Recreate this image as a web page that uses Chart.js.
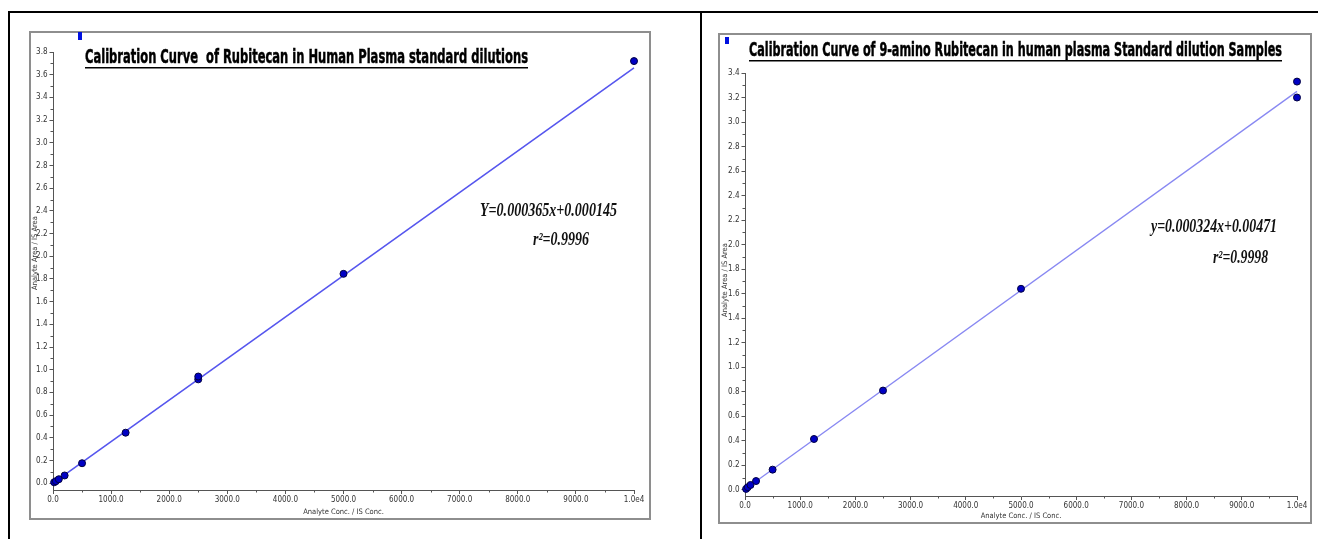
<!DOCTYPE html>
<html>
<head>
<meta charset="utf-8">
<script src="https://cdn.jsdelivr.net/npm/chart.js@4.4.1/dist/chart.umd.min.js"></script>
<style>
  body { margin: 0; background: #fff; width: 1318px; height: 539px; overflow: hidden; position: relative; }
  .rule { position: absolute; background: #000; }
  .frame { position: absolute; box-sizing: border-box; border: 2px solid #8e8e8e; }
  canvas { position: absolute; }
</style>
</head>
<body>
<div class="rule" style="left:8px;top:11px;width:1310px;height:2px"></div>
<div class="rule" style="left:8px;top:11px;width:2px;height:528px"></div>
<div class="rule" style="left:700px;top:11px;width:2px;height:528px"></div>
<div class="frame" style="left:29px;top:31px;width:622px;height:489px"></div>
<div class="frame" style="left:718px;top:33px;width:594px;height:491px"></div>
<canvas id="rubitecan" width="620" height="487" style="left:30px;top:32px"></canvas>
<canvas id="aminoRubitecan" width="592" height="489" style="left:719px;top:34px"></canvas>
<script>
// x axis (shared by both curves)
var xTickValues = [0, 1000, 2000, 3000, 4000, 5000, 6000, 7000, 8000, 9000, 10000];
var xTickLabels = ['0.0', '1000.0', '2000.0', '3000.0', '4000.0', '5000.0', '6000.0', '7000.0', '8000.0', '9000.0', '1.0e4'];

// Rubitecan standards
var rubConc = [20, 50, 100, 200, 500, 1250, 2500, 2500, 5000, 10000];
var rubRatio = [0.008, 0.018, 0.035, 0.068, 0.176, 0.445, 0.915, 0.94, 1.845, 3.72];
var rubFitConc = [0, 10000];
var rubFitRatio = [0.0, 3.66];
var rubYTicks = [0.0, 0.2, 0.4, 0.6, 0.8, 1.0, 1.2, 1.4, 1.6, 1.8, 2.0, 2.2, 2.4, 2.6, 2.8, 3.0, 3.2, 3.4, 3.6, 3.8];

// 9-amino Rubitecan standards
var aminoConc = [20, 50, 100, 200, 500, 1250, 2500, 5000, 10000, 10000];
var aminoRatio = [0.008, 0.022, 0.04, 0.072, 0.165, 0.415, 0.81, 1.64, 3.20, 3.33];
var aminoFitConc = [0, 10000];
var aminoFitRatio = [0.005, 3.25];
var aminoYTicks = [0.0, 0.2, 0.4, 0.6, 0.8, 1.0, 1.2, 1.4, 1.6, 1.8, 2.0, 2.2, 2.4, 2.6, 2.8, 3.0, 3.2, 3.4];

var tickFont = { family: '"Liberation Sans Narrow", "DejaVu Sans Condensed", "Liberation Sans", sans-serif', size: 8 };
var axisFont = '7.5px "Liberation Sans Narrow", "DejaVu Sans Condensed", "Liberation Sans", sans-serif';
var headFont = 'bold 20px "Liberation Sans Narrow", "DejaVu Sans Condensed", "Liberation Sans", sans-serif';
var eqFont = 'italic bold 18px "Liberation Serif", "DejaVu Serif", serif';

function toPoints(xs, ys) {
    return xs.map(function (x, i) { return { x: x, y: ys[i] }; });
}

// draws text squeezed/stretched to a given width
function fitText(ctx, text, x, y, width, font, color, heavy) {
    ctx.save();
    ctx.font = font;
    ctx.fillStyle = color;
    ctx.strokeStyle = color;
    ctx.textAlign = 'left';
    ctx.textBaseline = 'alphabetic';
    var w = ctx.measureText(text).width;
    ctx.translate(x, y);
    ctx.scale(width / w, 1);
    ctx.fillText(text, 0, 0);
    if (heavy) {
        ctx.lineWidth = heavy;
        ctx.strokeText(text, 0, 0);
    }
    ctx.restore();
}

function drawMinorTicks(chart) {
    var ctx = chart.ctx, area = chart.chartArea;
    var xs = chart.scales.x, ys = chart.scales.y;
    ctx.save();
    ctx.strokeStyle = '#555';
    ctx.lineWidth = 1;
    ctx.beginPath();
    for (var i = 0; i < xs.ticks.length - 1; i++) {
        var px = Math.round(xs.getPixelForValue((xs.ticks[i].value + xs.ticks[i + 1].value) / 2)) + 0.5;
        ctx.moveTo(px, area.bottom);
        ctx.lineTo(px, area.bottom + 2.5);
    }
    for (var j = 0; j < ys.ticks.length - 1; j++) {
        var py = Math.round(ys.getPixelForValue((ys.ticks[j].value + ys.ticks[j + 1].value) / 2)) + 0.5;
        ctx.moveTo(area.left, py);
        ctx.lineTo(area.left - 2.5, py);
    }
    ctx.stroke();
    ctx.restore();
}

function calibrationChart(id, p) {
    var decor = {
        id: 'decor',
        afterDraw: function (chart) {
            var ctx = chart.ctx;
            drawMinorTicks(chart);

            ctx.save();
            ctx.fillStyle = '#0010e0';
            ctx.fillRect(p.marker[0], p.marker[1], 4, p.marker[2]);

            fitText(ctx, p.title, p.titleX, p.titleY, p.titleW, headFont, '#000', 0.5);
            ctx.fillStyle = '#000';
            ctx.fillRect(p.titleX, p.titleY + 4, p.titleW, 1.5);

            fitText(ctx, p.equation, p.eqX, p.eqY, p.eqW, eqFont, '#111', 0);
            fitText(ctx, p.rsq, p.rsqX, p.rsqY, p.rsqW, eqFont, '#111', 0);

            ctx.translate(p.yTitle[0], p.yTitle[1]);
            ctx.rotate(-Math.PI / 2);
            ctx.font = axisFont;
            ctx.fillStyle = '#333';
            ctx.textAlign = 'center';
            ctx.textBaseline = 'middle';
            ctx.fillText('Analyte Area / IS Area', 0, 0);
            ctx.restore();
        }
    };

    return new Chart(document.getElementById(id), {
        type: 'scatter',
        data: {
            datasets: [{
                label: 'standards',
                data: toPoints(p.conc, p.ratio),
                pointRadius: 3.5,
                pointBackgroundColor: '#0000c4',
                pointBorderColor: '#000040',
                pointBorderWidth: 1,
                clip: false
            }, {
                label: 'fit',
                data: toPoints(p.fitConc, p.fitRatio),
                showLine: true,
                borderColor: p.lineColor,
                borderWidth: p.lineWidth,
                pointRadius: 0,
                clip: false
            }]
        },
        options: {
            responsive: false,
            animation: false,
            devicePixelRatio: 1,
            layout: { padding: { top: p.padTop, right: p.padRight, left: 0, bottom: 0 } },
            plugins: { legend: { display: false }, tooltip: { enabled: false } },
            scales: {
                x: {
                    type: 'linear',
                    min: 0,
                    max: 10000,
                    afterFit: function (s) { s.height = p.xAxisHeight; },
                    afterBuildTicks: function (s) { s.ticks = xTickValues.map(function (v) { return { value: v }; }); },
                    grid: { drawOnChartArea: false, drawTicks: true, tickLength: 4, tickColor: '#555' },
                    border: { color: '#555', width: 1 },
                    ticks: {
                        font: tickFont, color: '#333', padding: 1, maxRotation: 0, autoSkip: false,
                        callback: function (v, i) { return xTickLabels[i]; }
                    },
                    title: {
                        display: true, text: 'Analyte Conc. / IS Conc.', color: '#333',
                        font: { family: tickFont.family, size: 7.5 }, padding: { top: 0, bottom: p.xTitlePad }
                    }
                },
                y: {
                    type: 'linear',
                    min: p.yMin,
                    max: p.yMax,
                    afterFit: function (s) { s.width = p.yAxisWidth; },
                    afterBuildTicks: function (s) { s.ticks = p.yTicks.map(function (v) { return { value: v }; }); },
                    grid: { drawOnChartArea: false, drawTicks: true, tickLength: 3.5, tickColor: '#555' },
                    border: { color: '#555', width: 1 },
                    ticks: {
                        font: tickFont, color: '#333', padding: 2,
                        callback: function (v) { return v.toFixed(1); }
                    }
                }
            }
        },
        plugins: [decor]
    });
}

calibrationChart('rubitecan', {
    conc: rubConc, ratio: rubRatio, fitConc: rubFitConc, fitRatio: rubFitRatio, yTicks: rubYTicks,
    yMin: -0.06, yMax: 3.8,
    padTop: 20, padRight: 16, yAxisWidth: 23, xAxisHeight: 29, xTitlePad: 2,
    lineColor: '#5656ee', lineWidth: 1.6,
    marker: [48, 0, 8],
    title: 'Calibration Curve  of Rubitecan in Human Plasma standard dilutions',
    titleX: 55, titleY: 31, titleW: 443,
    equation: 'Y=0.000365x+0.000145', eqX: 450, eqY: 184, eqW: 137,
    rsq: 'r\u00b2=0.9996', rsqX: 503, rsqY: 213, rsqW: 56,
    yTitle: [5, 221]
});

calibrationChart('aminoRubitecan', {
    conc: aminoConc, ratio: aminoRatio, fitConc: aminoFitConc, fitRatio: aminoFitRatio, yTicks: aminoYTicks,
    yMin: -0.05, yMax: 3.4,
    padTop: 39, padRight: 14, yAxisWidth: 26, xAxisHeight: 27, xTitlePad: 2,
    lineColor: '#8888f2', lineWidth: 1.3,
    marker: [6, 3, 7],
    title: 'Calibration Curve of 9-amino Rubitecan in human plasma Standard dilution Samples',
    titleX: 30, titleY: 22, titleW: 533,
    equation: 'y=0.000324x+0.00471', eqX: 432, eqY: 198, eqW: 126,
    rsq: 'r\u00b2=0.9998', rsqX: 494, rsqY: 229, rsqW: 55,
    yTitle: [6, 246]
});
</script>
</body>
</html>
